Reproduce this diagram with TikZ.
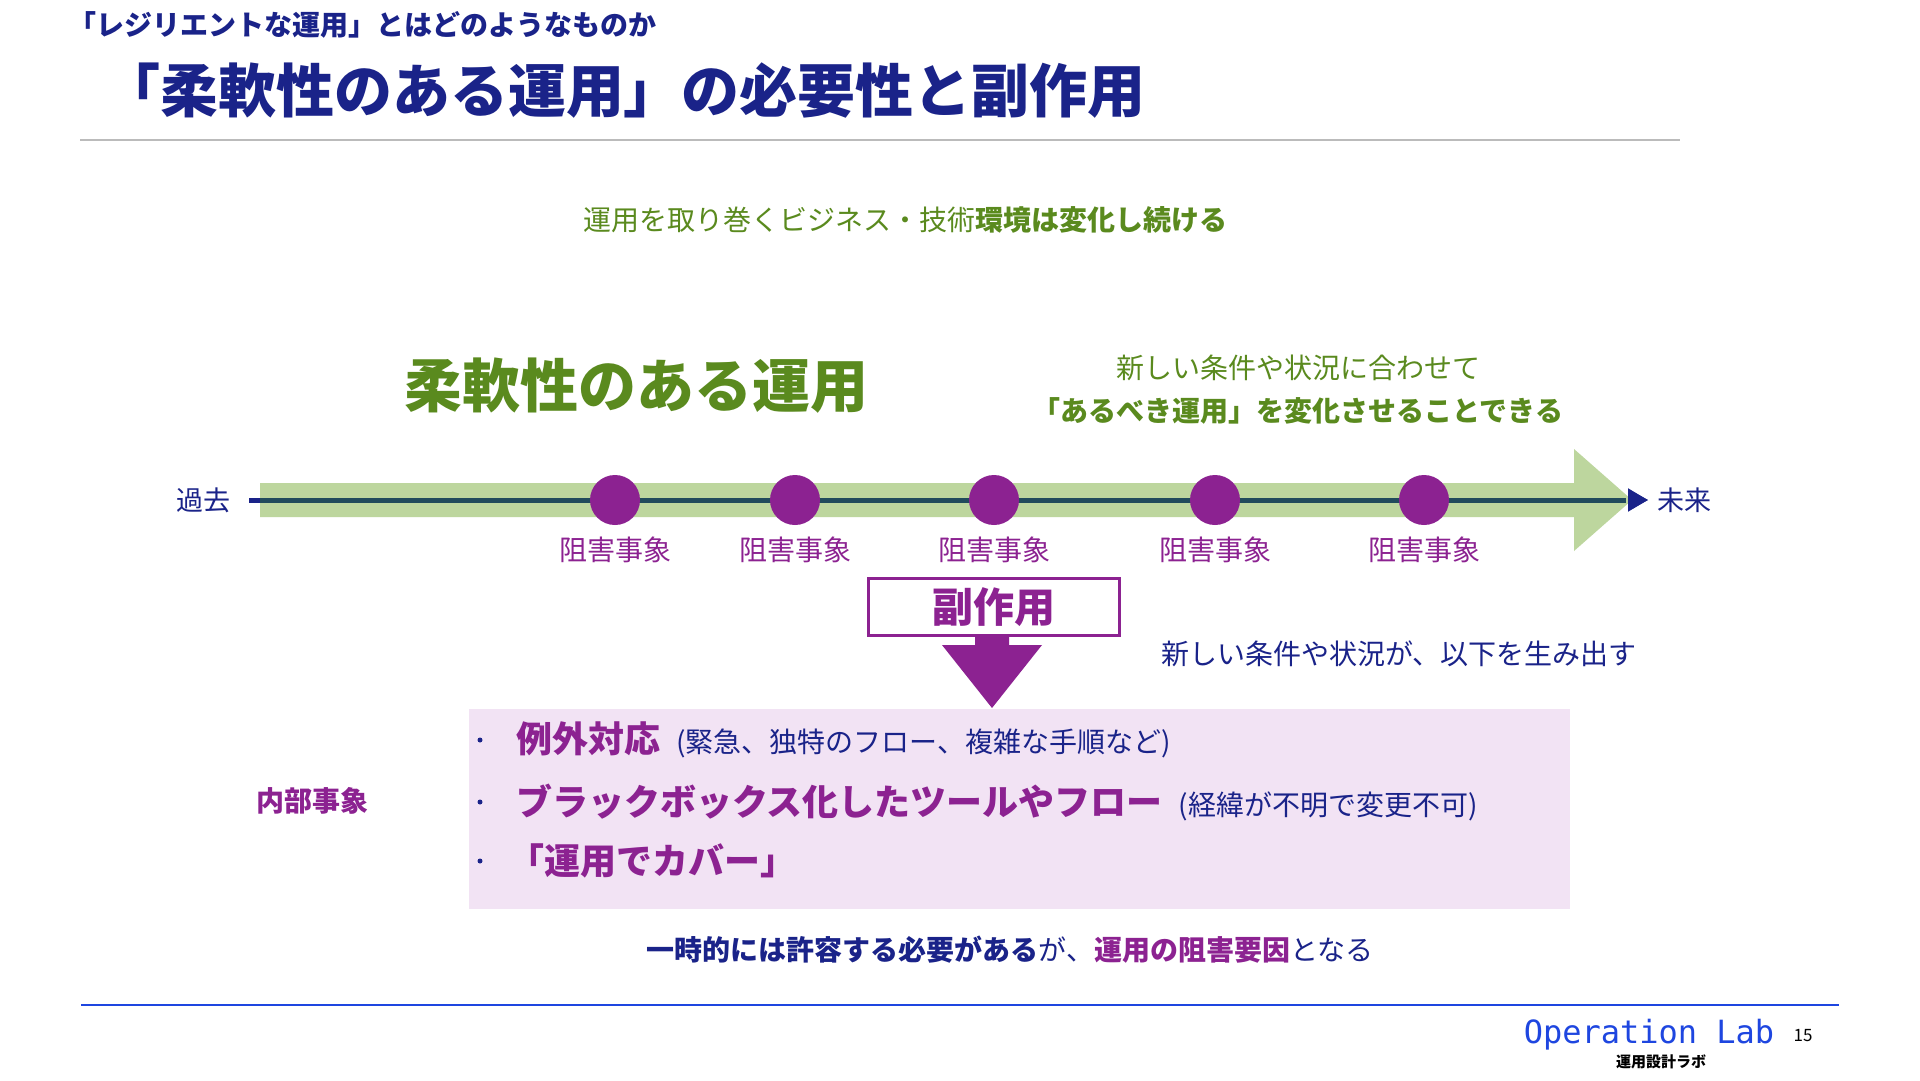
\documentclass[tikz,border=0pt]{standalone}
\usepackage{fontspec}
\setmainfont{Noto Sans CJK JP}
\newfontfamily\monof{DejaVu Sans Mono}
\usetikzlibrary{arrows.meta}
\definecolor{navy}{HTML}{1A2389}
\definecolor{grn}{HTML}{5A8A1E}
\definecolor{purp}{HTML}{8C2291}
\definecolor{lgreen}{HTML}{BDD69E}
\definecolor{pinkbg}{HTML}{F2E3F4}
\definecolor{slate}{HTML}{214B5C}
\definecolor{blueline}{HTML}{1E46E0}
\definecolor{grayline}{HTML}{BBBBBB}
\tikzset{
  f/.style={font=\fontsize{#1}{#1}\selectfont},
  fb/.style={font=\fontsize{#1}{#1}\selectfont\bfseries},
  evt/.style={circle, fill=purp, minimum size=50pt},
  evtlabel/.style={f=28, text=purp},
  bulletdot/.style={circle, fill=navy, minimum size=5pt},
}
\begin{document}
\begin{tikzpicture}[x=1pt,y=-1pt, every node/.style={inner sep=0pt, outer sep=0pt}]
\useasboundingbox (0,0) rectangle (1920,1080);
\fill[white] (0,0) rectangle (1920,1080);

% header
\node[anchor=west, fb=28, text=navy] (sub) at (68,25) {「レジリエントな運用」とはどのようなものか};
\node[anchor=west, fb=58, text=navy] (title) at (102,91) {「柔軟性のある運用」の必要性と副作用};
\draw[grayline, line width=1.5pt] (80,140) -- (1680,140);

% green texts
\node[f=28, text=grn] (env) at (905,220) {運用を取り巻くビジネス・技術\textbf{環境は変化し続ける}};
\node[fb=58, text=grn] (flex) at (636,386) {柔軟性のある運用};
\node[f=28, text=grn] (new1) at (1298,368) {新しい条件や状況に合わせて};
\node[fb=28, text=grn] (new2) at (1298,411) {「あるべき運用」を変化させることできる};

% timeline
\node[f=27, text=navy] (past) at (203,500) {過去};
\node[f=27, text=navy] (future) at (1684,500) {未来};
\draw[navy, line width=5pt, shorten <=19pt, shorten >=9pt, -{Triangle[length=20pt,width=22pt]}] (past.east) -- (future.west);
\fill[lgreen] (260,483) -- (1574,483) -- (1574,449) -- (1632,500) -- (1574,551) -- (1574,517) -- (260,517) -- cycle;
\draw[slate, line width=5pt] (260,500) -- (1626,500);
\fill[navy] (1628,489) -- (1648,500) -- (1628,511) -- cycle;

\node[evt] (e1) at (615,500) {};
\node[evt] (e2) at (795,500) {};
\node[evt] (e3) at (994,500) {};
\node[evt] (e4) at (1215,500) {};
\node[evt] (e5) at (1424,500) {};
\node[evtlabel] (l1) at (615,550) {阻害事象};
\node[evtlabel] (l2) at (795,550) {阻害事象};
\node[evtlabel] (l3) at (994,550) {阻害事象};
\node[evtlabel] (l4) at (1215,550) {阻害事象};
\node[evtlabel] (l5) at (1424,550) {阻害事象};

% side effect
\node[draw=purp, line width=3pt, minimum width=251pt, minimum height=57pt, fb=41, text=purp] (side) at (994,607) {副作用};
\node[f=28, text=navy] (gen) at (1399,654) {新しい条件や状況が、以下を生み出す};

% pink box
\node[fill=pinkbg, minimum width=1101pt, minimum height=200pt] (pbox) at (1019.5,809) {};
\fill[purp] (975,636) -- (1009,636) -- (1009,645) -- (1042,645) -- (992,708) -- (942,645) -- (975,645) -- cycle;

\node[fb=28, text=purp] (internal) at (312,801) {内部事象};

\node[bulletdot] (b1) at (480,740) {};
\node[bulletdot] (b2) at (480,802) {};
\node[bulletdot] (b3) at (480,861) {};
\node[anchor=west, fb=36, text=purp] (i1) at (516,740) {例外対応\hspace{16pt}{\fontsize{28}{28}\mdseries\color{navy}(緊急、独特のフロー、複雑な手順など)}};
\node[anchor=west, fb=36, text=purp] (i2) at (516,802) {ブラックボックス化したツールやフロー\hspace{16pt}{\fontsize{28}{28}\mdseries\color{navy}(経緯が不明で変更不可)}};
\node[anchor=west, fb=36, text=purp] (i3) at (508,861) {「運用でカバー」};

% conclusion
\node[f=28, text=navy] (concl) at (1010,950) {\textbf{一時的には許容する必要がある}が、\textcolor{purp}{\textbf{運用の阻害要因}}となる};

% footer
\draw[blueline, line width=2pt] (81,1005) -- (1839,1005);
\node[font=\monof\fontsize{32}{32}\selectfont, text=blueline] (lab) at (1649,1035) {Operation Lab};
\node[f=17] (page) at (1803,1036) {15};
\node[fb=15] (labjp) at (1661,1062) {運用設計ラボ};
\end{tikzpicture}
\end{document}
